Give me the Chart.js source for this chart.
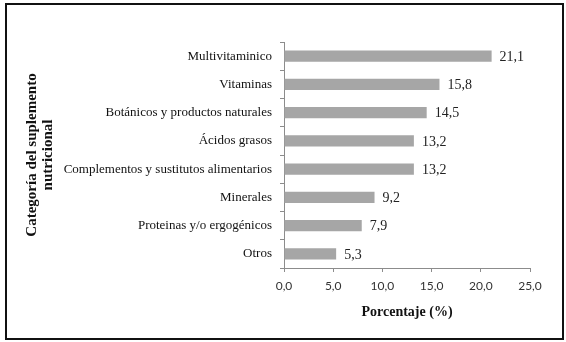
<!DOCTYPE html>
<html>
<head>
<meta charset="utf-8">
<script src="https://cdn.jsdelivr.net/npm/chart.js@4"></script>
<style>
  body { margin: 0; background: #fff; }
  #wrap { width: 566px; height: 342px; }
</style>
</head>
<body>
<div id="wrap"><canvas id="myChart" width="566" height="342"></canvas></div>
<script>
// categorias del suplemento nutricional, de arriba a abajo
const categories = [
    'Multivitaminico',
    'Vitaminas',
    'Botánicos y productos naturales',
    'Ácidos grasos',
    'Complementos y sustitutos alimentarios',
    'Minerales',
    'Proteinas y/o ergogénicos',
    'Otros'
];
const percentages = [21.1, 15.8, 14.5, 13.2, 13.2, 9.2, 7.9, 5.3];
const xTicks = [0, 5, 10, 15, 20, 25];

function comma(v) {
    return Number(v).toFixed(1).replace('.', ',');
}

// marco negro alrededor de la figura
const framePlugin = {
    id: 'frame',
    beforeDraw(chart) {
        const ctx = chart.ctx;
        ctx.save();
        ctx.fillStyle = '#fff';
        ctx.fillRect(0, 0, chart.width, chart.height);
        ctx.strokeStyle = '#111';
        ctx.lineWidth = 2;
        ctx.strokeRect(6, 4, 557, 335);
        ctx.restore();
    }
};

// etiquetas de valor al final de cada barra
const valueLabels = {
    id: 'valueLabels',
    afterDatasetsDraw(chart) {
        const ctx = chart.ctx;
        const meta = chart.getDatasetMeta(0);
        ctx.save();
        ctx.font = '14px "Liberation Serif"';
        ctx.fillStyle = '#222';
        ctx.textAlign = 'left';
        ctx.textBaseline = 'middle';
        meta.data.forEach((bar, i) => {
            ctx.fillText(comma(percentages[i]), bar.x + 8, bar.y + 1);
        });
        ctx.restore();
    }
};

const config = {
    type: 'bar',
    data: {
        labels: categories,
        datasets: [{
            data: percentages,
            backgroundColor: '#a6a6a6',
            borderWidth: 0,
            barPercentage: 0.4,
            categoryPercentage: 1.0
        }]
    },
    options: {
        indexAxis: 'y',
        responsive: false,
        animation: false,
        layout: { padding: { top: 42, right: 36, bottom: 21, left: 24 } },
        plugins: {
            legend: { display: false },
            tooltip: { enabled: false }
        },
        scales: {
            x: {
                min: 0,
                max: 25,
                afterBuildTicks(scale) {
                    scale.ticks = xTicks.map(v => ({ value: v }));
                },
                afterFit(scale) { scale.height = 53; },
                border: { color: '#8c8c8c', width: 1 },
                grid: { drawOnChartArea: false, tickLength: 4, color: '#8c8c8c' },
                ticks: {
                    padding: 7,
                    color: '#333',
                    font: { family: 'Lato', size: 12 },
                    callback: v => comma(v)
                },
                title: {
                    display: true,
                    text: 'Porcentaje (%)',
                    color: '#111',
                    font: { family: 'Liberation Serif', size: 14, weight: 'bold' },
                    padding: { top: 4, bottom: 0 }
                }
            },
            y: {
                afterFit(scale) { scale.width = 260; },
                border: { color: '#8c8c8c', width: 1 },
                grid: { drawOnChartArea: false, tickLength: 4, color: '#8c8c8c' },
                ticks: {
                    padding: 8,
                    color: '#111',
                    font: { family: 'Liberation Serif', size: 13 }
                },
                title: {
                    display: true,
                    text: ['Categoría del suplemento', 'nutricional'],
                    color: '#111',
                    font: { family: 'Liberation Serif', size: 15, weight: 'bold', lineHeight: 1.05 },
                    padding: 0
                }
            }
        }
    },
    plugins: [framePlugin, valueLabels]
};

var myChart = new Chart(document.getElementById('myChart'), config);
</script>
</body>
</html>
